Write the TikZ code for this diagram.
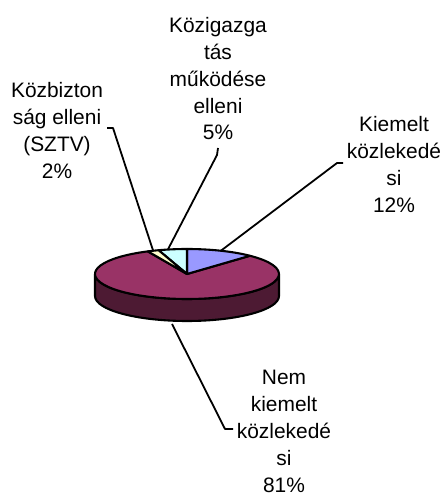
\documentclass[tikz,border=0pt]{standalone}
\usepackage{fontspec}
\setmainfont{Liberation Sans}
\usetikzlibrary{calc}
\definecolor{kiemelt}{HTML}{9999FF}
\definecolor{nemkiemelt}{HTML}{993366}
\definecolor{nemkiemeltside}{HTML}{4D1A33}
\definecolor{kozbiz}{HTML}{FFFFCC}
\definecolor{kozig}{HTML}{CCFFFF}
\tikzstyle{lbl} = [align=center, inner sep=0pt, anchor=north, font=\fontsize{21}{27}\selectfont]
\tikzstyle{leader} = [draw, line width=1.8pt, line join=round]
\tikzstyle{slice} = [draw, line width=2.1pt, line join=round]

\begin{document}
\begin{tikzpicture}[x=1bp,y=1bp]
    \useasboundingbox (0,0) rectangle (444,496);
    \coordinate (c) at (187,222);

    % side of the cake
    \draw [slice, fill=nemkiemeltside] ($(c)+(-92,0)$) -- ++(0,-22)
        arc[start angle=180, end angle=360, x radius=92, y radius=25] -- ++(0,22)
        arc[start angle=0, end angle=-180, x radius=92, y radius=25] -- cycle;

    % top slices
    \draw [slice, fill=nemkiemelt] (c) -- ++(115.2:92 and 25)
        arc[start angle=115.2, end angle=406.8, x radius=92, y radius=25] -- cycle;
    \draw [slice, fill=kiemelt] (c) -- ++(46.8:92 and 25)
        arc[start angle=46.8, end angle=90, x radius=92, y radius=25] -- cycle;
    \draw [slice, fill=kozig] (c) -- ++(90:92 and 25)
        arc[start angle=90, end angle=108, x radius=92, y radius=25] -- cycle;
    \draw [slice, fill=kozbiz] (c) -- ++(108:92 and 25)
        arc[start angle=108, end angle=115.2, x radius=92, y radius=25] -- cycle;

    % labels
    \node [lbl] (kozig) at (218,479) {Közigazga\\tás\\működése\\elleni\\5\%};
    \node [lbl] (kozbiz) at (57,414) {Közbizton\\ság elleni\\(SZTV)\\2\%};
    \node [lbl] (kiem) at (394,380) {Kiemelt\\közlekedé\\si\\12\%};
    \node [lbl] (nemkiem) at (284,126) {Nem\\kiemelt\\közlekedé\\si\\81\%};

    % leader lines
    \coordinate (p-kiem) at ($(c)+(68.4:92 and 25)$);
    \coordinate (p-kozig) at ($(c)+(102:92 and 25)$);
    \coordinate (p-kozbiz) at ($(c)+(111.6:92 and 25)$);
    \coordinate (p-nemkiem) at (172,172);
    \coordinate (t-kiem) at (343,333);
    \coordinate (t-kozig) at (218,348);
    \coordinate (t-kozbiz) at (107,368);
    \coordinate (t-nemkiem) at (233,67);

    \draw [leader] (t-kiem) -- ++(-6,0) -- (p-kiem);
    \draw [leader] (t-kozig) -- ++(-1,-7) -- (p-kozig);
    \draw [leader] (t-kozbiz) -- ++(6,0) -- (p-kozbiz);
    \draw [leader] (t-nemkiem) -- ++(-8,0) -- (p-nemkiem);
\end{tikzpicture}
\end{document}
